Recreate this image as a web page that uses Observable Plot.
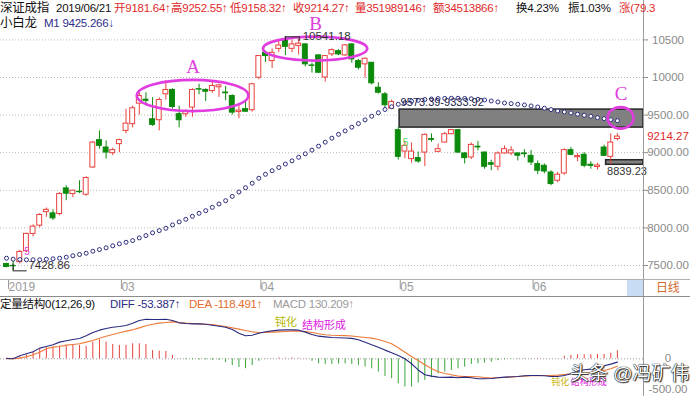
<!DOCTYPE html>
<html><head><meta charset="utf-8">
<script src="https://cdn.jsdelivr.net/npm/d3@7"></script>
<script src="https://cdn.jsdelivr.net/npm/@observablehq/plot@0.6"></script>
<style>
html,body{margin:0;padding:0;background:#fff;}
#wrap{position:relative;width:690px;height:396px;overflow:hidden;background:#fff;font-family:"Liberation Sans","Noto Sans CJK SC",sans-serif;}
#wrap svg{position:absolute;left:0;}
.t{position:absolute;white-space:nowrap;font-size:11.5px;line-height:14px;letter-spacing:-0.25px;}
.r{color:#e02a2a;} .k{color:#111;} .n{color:#2e2e8a;}
.ln{position:absolute;}
</style></head><body><div id="wrap"></div>
<script>
// ---------- data ----------
const open = [7520,7495,7545,7690,7920,8030,8210,8193,8185,8525,
8450,8480,8441,8803,9167,9069,8994,9114,9290,9379,
9652,9705,9445,9432,9777,9834,9512,9512,9600,9845,
9834,9820,9870,9800,9754,9540,9580,9565,9997,10328,
10218,10381,10497,10381,10420,10440,10160,10294,10000,10307,
10350,10294,10440,10218,10175,10196,9864,9776,9586,9300,
9015,8915,8928,9002,9180,9012,9135,9246,9300,8990,
8936,9080,9002,8860,8813,8990,8990,8990,8990,8958,
8848,8826,8737,8627,8724,9034,8940,8972,8840,8810,
9069,8945,9181.64];
const high = [7530,7560,7700,7930,8040,8190,8265,8240,8470,8560,
8500,8627,8680,9150,9290,9157,9060,9180,9578,9620,
9800,9798,9732,9730,9960,9850,9620,9570,9850,9910,
9850,9960,9910,9880,9770,9640,9680,9925,10290,10350,
10380,10500,10541.18,10500,10510,10450,10190,10300,10290,10380,
10370,10440,10450,10240,10260,10200,9930,9800,9700,9333.92,
9150,9130,9010,9250,9250,9115,9270,9310,9310,9000,
9130,9150,9010,8900,9010,9090,9080,8995,9040,9030,
8890,8850,8760,8740,9050,9070,8990,9000,8880,8860,
9100,9250,9252.55];
const low = [7470,7428.86,7520,7670,7880,8000,8140,8100,8160,8362,
8400,8455,8420,8790,9047,8915,8960,9000,9250,9330,
9500,9620,9350,9290,9700,9580,9330,9470,9470,9770,
9680,9790,9735,9690,9500,9450,9540,9540,9970,10200,
10120,10330,10290,10330,10300,10140,10060,10060,9940,10280,
10290,10280,10190,10100,9990,9900,9780,9590,9573.39,8902,
8920,8860,8860,8815,9140,9000,9130,9240,8990,8850,
8910,9025,8780,8760,8760,8980,8960,8890,8930,8830,
8710,8720,8561,8600,8700,8960,8880,8800,8780,8770,
8950,8839.23,9158.32];
const close = [7480,7490,7680,7920,8017,8172,8240,8127,8450,8455,
8495,8475,8663,9135,9091,9002,9034,9167,9387,9591,
9754,9690,9370,9700,9834,9608,9432,9542,9834,9840,
9811,9887,9895,9790,9533,9560,9545,9910,10285,10285,
10328,10425,10408,10440,10450,10175,10155,10063,10285,10364,
10307,10427,10241,10130,10249,9923,9798,9631,9675,8945,
9090,9015,8883,9237,9170,9047,9246,9300,9002,8928,
9104,9070,8813,8840,8990,9047,9030,8960,8980,8870,
8760,8750,8583,8707,9034,8972,8955,8826,8825,8830,
8958,9135,9214.27];
// 小白龙 M1
const m1 = [7597,7584,7580,7576,7576,7576,7584,7589,7597,7610,
7629,7646,7663,7690,7712,7735,7761,7788,7809,7832,
7867,7898,7934,7964,7995,8040,8080,8114,8154,8194,
8229,8273,8318,8362,8419,8477,8534,8594,8660,8713,
8760,8803,8849,8892,8939,8985,9034,9087,9140,9193,
9244,9290,9339,9387,9436,9485,9531,9575,9611,9644,
9665,9684,9697,9708,9714,9720,9722,9724,9724,9721,
9717,9710,9701,9688,9675,9661,9652,9644,9635,9622,
9608,9591,9573,9555,9542,9529,9512,9498,9485,9466,
9453,9440,9425.266];
// MACD (12,26,9)
const diff = [5,0,48,81,113,172,199,226,269,290,
311,328,371,424,462,489,510,521,537,575,
618,639,634,634,639,618,580,569,564,564,
558,542,526,510,473,413,371,381,413,435,
451,462,467,467,462,430,392,365,354,344,
340,336,330,306,268,226,188,140,97,54,
0,-80,-180,-258,-280,-295,-300,-295,-306,-295,
-306,-322,-322,-317,-306,-295,-290,-285,-274,-269,
-269,-274,-285,-285,-269,-242,-199,-177,-166,-145,
-113,-86,-53.387];
const dea = [0,0,11,32,64,107,161,188,199,220,
231,242,269,295,333,365,392,419,446,467,
499,532,558,575,585,596,585,575,569,564,
558,553,537,521,499,478,456,435,424,424,
430,435,440,446,446,440,424,403,387,380,
376,374,368,356,344,333,311,279,242,177,
107,38,-27,-97,-156,-209,-236,-258,-279,-285,
-285,-290,-301,-311,-306,-301,-295,-285,-279,-274,
-274,-269,-269,-263,-252,-242,-236,-228,-218,-205,
-190,-160,-118.491];
const macd = [11,11,27,64,107,161,177,188,204,204,
226,215,199,268,306,268,231,215,215,242,
242,231,134,124,118,54,-5,-15,-15,-20,
-20,-25,-25,-60,-110,-140,-160,-110,-40,-5,
5,15,10,15,10,3,-40,-80,-90,-90,
-85,-81,-91,-107,-134,-161,-215,-285,-322,-403,
-456,-456,-392,-349,-306,-242,-215,-188,-161,-134,
-91,-81,-70,-54,-30,-15,-5,5,8,5,
8,3,-3,3,40,54,64,64,64,70,
70,91,130.209];
// axis ticks
const priceTicks = [7500,8000,8500,9000,9500,10000,10500];
const monthTickIdx = [0,17,38,59,79];
const monthTickLabels = ["2019","03","04","05","06"];
const macdTicks = [0,-500];
// annotations (candle index / price units)
const gapZones = [
  {from:59.2, lo:9333.92, hi:9573.39, label:"9573.39-9333.92"},
  {from:90.3, lo:8839.23, hi:8900, label:"8839.23"}
];
const rings = [
  {label:"A", i0:19.7, i1:36.5, lo:9546, hi:9962},
  {label:"B", i0:38.7, i1:54.4, lo:10218, hi:10537},
  {label:"C", i0:90.6, i1:94.5, lo:9313, hi:9599}
];
const signals = [{i:3.1, p:7676, t:"5", c:"#e040e0"}, {i:60.1, p:9131, t:"5", c:"#55d055"}];
const macdNotes = [
  {i:42.1, v:585, t:"钝化", c:"#b4b400", s:11},
  {i:47.8, v:530, t:"结构形成", c:"#e020e0", s:11},
  {i:83.4, v:-375, t:"钝化", c:"#c8b400", s:9},
  {i:87.7, v:-375, t:"结构形成", c:"#e020e0", s:9}
];

// ---------- build ----------
const RED = "#e8403c", GREEN = "#0b8a0b", HGREEN = "#3aa63a", MAG = "#e03ce0";
const bars = close.map((c, i) => ({i, o: open[i], h: high[i], l: low[i], c, up: c >= open[i]}));
const m1d = m1.map((v, i) => ({i, v}));
const macdD = macd.map((v, i) => ({i, v}));
const diffD = diff.map((v, i) => ({i, v}));
const deaD = dea.map((v, i) => ({i, v}));
const XD = [-0.904, 95.93];
const iMax = d3.maxIndex(high), iMin = d3.minIndex(low);
const FONT = '"Liberation Sans","Noto Sans CJK SC",sans-serif';

const ringMark = (index, scales) => {
  const sx = scales.x, sy = scales.y;
  const g = document.createElementNS("http://www.w3.org/2000/svg", "g");
  for (const r of rings) {
    const x0 = sx(r.i0), x1 = sx(r.i1), y0 = sy(r.hi), y1 = sy(r.lo);
    const e = document.createElementNS("http://www.w3.org/2000/svg", "ellipse");
    e.setAttribute("cx", (x0 + x1) / 2); e.setAttribute("cy", (y0 + y1) / 2);
    e.setAttribute("rx", (x1 - x0) / 2); e.setAttribute("ry", (y1 - y0) / 2);
    e.setAttribute("fill", "none"); e.setAttribute("stroke", MAG); e.setAttribute("stroke-width", 2.6);
    g.appendChild(e);
  }
  return g;
};

const price = Plot.plot({
  width: 690, height: 296, marginLeft: 0, marginRight: 47, marginTop: 0, marginBottom: 17,
  x: {domain: XD, range: [0, 643], axis: null},
  y: {domain: [7500, 10500], range: [265, 39.4], axis: null},
  style: {background: "transparent", overflow: "visible", fontFamily: FONT},
  marks: [
    Plot.ruleY(priceTicks, {stroke: "#b8b8b8", strokeDasharray: "1,2"}),
    Plot.rect(gapZones, {x1: "from", x2: () => XD[1], y1: "lo", y2: "hi", fill: "#808080", stroke: "#262626", strokeWidth: 1.5}),
    Plot.ruleX(bars, {x: "i", y1: "l", y2: "h", stroke: d => d.up ? RED : GREEN}),
    Plot.rect(bars, {x1: d => d.i - 0.37, x2: d => d.i + 0.37, y1: "o", y2: "c",
      fill: d => d.up ? "#ffffff" : GREEN, stroke: d => d.up ? RED : GREEN}),
    Plot.dot(m1d, {x: "i", y: "v", r: 2, stroke: "#2d2d80", fill: "#fff", strokeWidth: 1}),
    ringMark,
    Plot.text(rings, {x: d => (d.i0 + d.i1) / 2, y: "hi", text: "label", dy: -13.5, fill: MAG,
      fontSize: 19, fontFamily: "Liberation Serif, DejaVu Serif, serif"}),
    Plot.text(signals, {x: "i", y: "p", text: "t", fill: "c", fontSize: 10}),
    // high / low markers
    Plot.ruleY([high[iMax]], {x1: iMax, x2: iMax + 2.1, stroke: "#222"}),
    Plot.ruleX([iMax, iMax + 2.1], {y1: high[iMax], y2: high[iMax] - 60, stroke: "#222"}),
    Plot.text([high[iMax]], {x: iMax + 2.6, y: d => d, text: d => d.toFixed(2), textAnchor: "start", dy: 0, fill: "#333", fontSize: 11.5}),
    Plot.ruleY([low[iMin]], {x1: iMin, x2: iMin + 2.1, stroke: "#222"}),
    Plot.ruleX([iMin], {y1: low[iMin], y2: low[iMin] + 90, stroke: "#222"}),
    Plot.text([low[iMin]], {x: iMin + 2.3, y: d => d, text: d => d.toFixed(2), textAnchor: "start", dy: -6, fill: "#333", fontSize: 11.5}),
    Plot.text(gapZones.slice(0, 1), {x: "from", y: "hi", text: "label", textAnchor: "start", dx: 1, dy: -7.5, fill: "#22224a", fontSize: 11}),
    Plot.text(gapZones.slice(1), {x: "from", y: "lo", text: "label", textAnchor: "start", dx: 1, dy: 7, fill: "#333", fontSize: 11}),
    Plot.axisY({anchor: "right", label: null, ticks: priceTicks, tickFormat: d => d >= 10000 ? String(d) : d.toFixed(2),
      tickSize: 4, tickPadding: 20.5, textAnchor: "middle", color: "#8a8a8a", fontSize: 11.5}),
    Plot.axisY({anchor: "right", label: null, ticks: [close[close.length - 1]], tickFormat: d => d.toFixed(2),
      tickSize: 0, tickPadding: 24.5, textAnchor: "middle", fill: "#e02a2a", fontSize: 11.5}),
    Plot.axisX({anchor: "bottom", label: null, ticks: monthTickIdx, tickFormat: d => monthTickLabels[monthTickIdx.indexOf(d)],
      tickSize: 10, tickPadding: -7, textAnchor: "start", dx: 2, color: "#9a9a9a", fontSize: 12})
  ]
});

const macdPlot = Plot.plot({
  width: 690, height: 100, marginLeft: 0, marginRight: 47, marginTop: 0, marginBottom: 0,
  x: {domain: XD, range: [0, 643], axis: null},
  y: {domain: [-500, 0], range: [93.3, 62.3], axis: null, label: null},
  style: {background: "transparent", overflow: "visible", fontFamily: FONT},
  marks: [
    Plot.ruleY([0], {stroke: "#9a9a9a", strokeDasharray: "1,2"}),
    Plot.ruleX(macdD, {x: "i", y1: 0, y2: "v", stroke: d => d.v >= 0 ? RED : HGREEN}),
    Plot.line(deaD, {x: "i", y: "v", stroke: "#ee7a3a", strokeWidth: 1.1}),
    Plot.line(diffD, {x: "i", y: "v", stroke: "#2a2a80", strokeWidth: 1.1}),
    Plot.text(macdNotes, {x: "i", y: "v", text: "t", fill: "c", fontSize: d => d.s}),
    Plot.text(macdTicks, {x: XD[1], y: d => d, text: d => d === 0 ? "0" : d.toFixed(2),
      dx: 24.5, textAnchor: "middle", fill: "#8a8a8a", fontSize: 11.5})
  ]
});

const wrap = document.getElementById("wrap");
price.style.top = "0px";
macdPlot.style.top = "296px";
wrap.appendChild(price);
wrap.appendChild(macdPlot);

const html = `
<div class="ln" style="left:643px;top:0;width:1px;height:396px;background:#9c9c9c"></div>
<div class="ln" style="left:0;top:279px;width:690px;height:1px;background:#b0b0b0"></div>
<div class="ln" style="left:0;top:296px;width:690px;height:1px;background:#8c8c8c"></div>
<div class="ln" style="left:627px;top:280px;width:16px;height:16px;background:#c8ddf3"></div>
<div class="t" style="left:656px;top:281px;color:#cf6a2a;font-size:12px">日线</div>
<div class="t k" style="left:0;top:1px;font-size:12.5px">深证成指</div>
<div class="t k" style="left:56px;top:1px">2019/06/21</div>
<div class="t r" style="left:114px;top:1px">开9181.64↑</div>
<div class="t r" style="left:171px;top:1px">高9252.55↑</div>
<div class="t r" style="left:230px;top:1px">低9158.32↑</div>
<div class="t r" style="left:293px;top:1px">收9214.27↑</div>
<div class="t r" style="left:355px;top:1px">量351989146↑</div>
<div class="t r" style="left:433px;top:1px">额34513866↑</div>
<div class="t k" style="left:516px;top:1px">换4.23%</div>
<div class="t k" style="left:568px;top:1px">振1.03%</div>
<div class="t r" style="left:619px;top:1px">涨(79.3</div>
<div class="t k" style="left:0;top:16px;font-size:12.5px">小白龙</div>
<div class="t n" style="left:44px;top:16px">M1 9425.266↓</div>
<div class="t k" style="left:0;top:297px">定量结构0(12,26,9)</div>
<div class="t" style="left:110px;top:297px;color:#2b2b86">DIFF -53.387↑</div>
<div class="t" style="left:189px;top:297px;color:#e36c2e">DEA -118.491↑</div>
<div class="t" style="left:273px;top:297px;color:#9a9a9a">MACD 130.209↑</div>
<div class="t" style="left:570px;top:363px;font-size:19px;line-height:22px;letter-spacing:0;color:#fff;text-shadow:0 0 1px #000,0 0 1px #000,1px 1px 1px #333">头条 @冯矿伟</div>
`;
wrap.insertAdjacentHTML("beforeend", html);
</script>
</body></html>
